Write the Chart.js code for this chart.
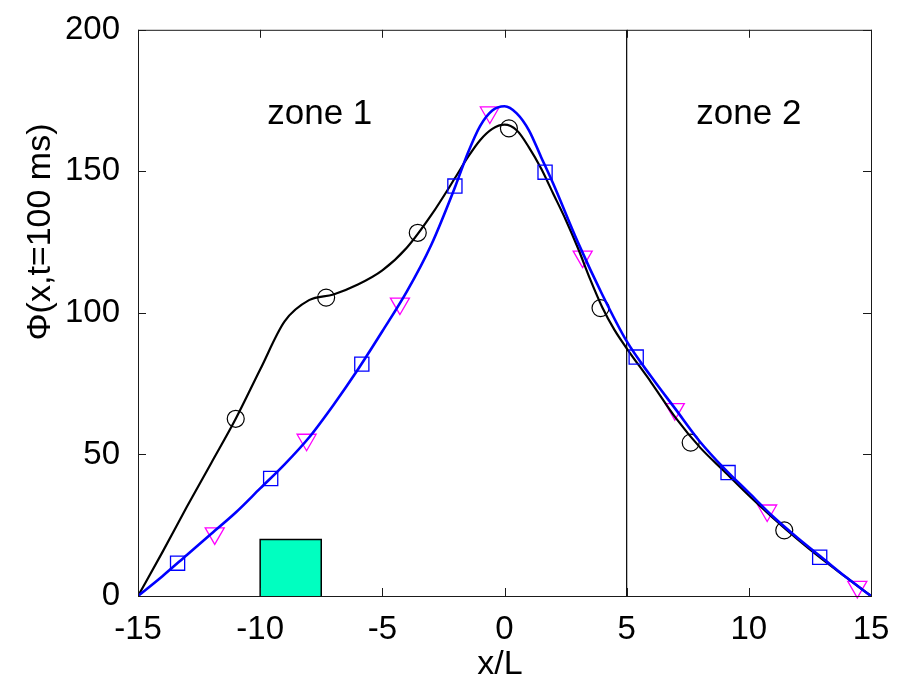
<!DOCTYPE html>
<html>
<head>
<meta charset="utf-8">
<script src="https://cdn.jsdelivr.net/npm/chart.js@4.4.1/dist/chart.umd.min.js"></script>
<style>
  body { margin: 0; background: #fff; }
  #wrap { width: 901px; height: 683px; }
</style>
</head>
<body>
<div id="wrap"><canvas id="grafico" width="901" height="683"></canvas></div>
<script>
// ejes
const xTicks = [-15, -10, -5, 0, 5, 10, 15];
const yTicks = [0, 50, 100, 150, 200];

// curva negra (circulos)
const xNegra = [-15, -14, -13, -12, -11, -10, -9, -8, -7, -6, -5, -4, -3, -2, -1.5, -1, -0.5, 0, 0.5, 1, 1.5, 2, 2.5, 3, 3.5, 4, 4.5, 5, 6, 7, 8, 9, 10, 11, 12, 13, 14, 15];
const yNegra = [0, 15.5, 31.5, 47, 62.6, 80, 97, 104.5, 106.5, 110, 115, 123, 134.5, 148, 155, 161, 165, 166.5, 164.5, 158.5, 151, 142, 133, 123, 112, 102, 94, 87.5, 75.5, 63, 52.5, 44, 35.5, 27.5, 20, 13, 6.5, 0];

// curva azul (cuadrados)
const xAzul = [-15, -14, -13, -12, -11, -10, -9, -8, -7, -6, -5, -4, -3, -2, -1.5, -1, -0.5, 0, 0.5, 1, 1.5, 2, 3, 4, 5, 6, 7, 8, 9, 10, 11, 12, 13, 14, 15];
const yAzul = [0, 7, 14.5, 22, 29.5, 38, 46.5, 56, 67.5, 80, 93.5, 107.5, 124, 145, 156.5, 166, 171.5, 173, 170.5, 164.5, 155, 145.5, 125, 106.5, 90, 77.5, 66, 54.5, 45, 36.5, 28, 20.5, 13.5, 6.5, 0];

// marcadores
const xCirculos = [-11, -7.3, -3.55, 0.18, 3.93, 7.62, 11.45];
const yCirculos = [62.6, 105.4, 128.3, 165.2, 101.7, 54.2, 23.2];
const xCuadrados = [-13.38, -9.57, -5.84, -2.03, 1.66, 5.39, 9.15, 12.9];
const yCuadrados = [11.6, 41.5, 81.9, 144.8, 149.7, 84.4, 43.6, 13.7];
const xTriangulos = [-11.86, -8.1, -4.28, -0.6, 3.2, 6.97, 10.75, 14.44];
const yTriangulos = [22.1, 55.2, 103.3, 170.8, 119.9, 66, 30.2, 3.2];

// rectangulo verde y limite de zonas
const xRect = [-10, -10, -7.5, -7.5];
const yRect = [0, 20, 20, 0];
const limiteZona = 5;

const fuente = "'Liberation Sans', Arial, sans-serif";

function pares(xs, ys) {
  return xs.map((x, i) => ({ x: x, y: ys[i] }));
}

// cajita, ticks hacia adentro y textos
const marco = {
  id: 'marco',
  afterDatasetsDraw(chart) {
    const ctx = chart.ctx;
    const a = chart.chartArea;
    const sx = chart.scales.x, sy = chart.scales.y;
    const tl = 8;
    ctx.save();
    ctx.strokeStyle = '#1a1a1a';
    ctx.lineWidth = 1;
    ctx.strokeRect(a.left + 0.5, a.top + 0.5, a.right - a.left, a.bottom - a.top);
    ctx.beginPath();
    xTicks.forEach(v => {
      const px = Math.round(sx.getPixelForValue(v)) + 0.5;
      ctx.moveTo(px, a.bottom); ctx.lineTo(px, a.bottom - tl);
      ctx.moveTo(px, a.top); ctx.lineTo(px, a.top + tl);
    });
    yTicks.forEach(v => {
      const py = Math.round(sy.getPixelForValue(v)) + 0.5;
      ctx.moveTo(a.left, py); ctx.lineTo(a.left + tl, py);
      ctx.moveTo(a.right, py); ctx.lineTo(a.right - tl, py);
    });
    ctx.stroke();

    ctx.fillStyle = '#000';
    ctx.textAlign = 'center';
    ctx.textBaseline = 'middle';
    ctx.font = '35px ' + fuente;
    ctx.fillText('zone 1', sx.getPixelForValue(-7.56), sy.getPixelForValue(170));
    ctx.fillText('zone 2', sx.getPixelForValue(10), sy.getPixelForValue(170));

    ctx.font = '34px ' + fuente;
    ctx.fillText('x/L', 500, 665);
    ctx.translate(41, 232);
    ctx.rotate(-Math.PI / 2);
    ctx.fillText('\u03A6(x,t=100 ms)', 0, 0);
    ctx.restore();
  }
};

const grafico = new Chart(document.getElementById('grafico'), {
  type: 'line',
  data: {
    datasets: [
      {
        data: pares(xCuadrados, yCuadrados), showLine: false, order: 1, clip: false,
        pointStyle: 'rect', pointRadius: 10, pointBorderColor: '#0000ff', pointBackgroundColor: 'rgba(0,0,0,0)', pointBorderWidth: 1.3
      },
      {
        data: pares(xAzul, yAzul), order: 2, borderColor: '#0000ff', borderWidth: 2.6,
        pointRadius: 0, cubicInterpolationMode: 'monotone'
      },
      {
        data: pares(xCirculos, yCirculos), showLine: false, order: 3, clip: false,
        pointStyle: 'circle', pointRadius: 8.5, pointBorderColor: '#000', pointBackgroundColor: 'rgba(0,0,0,0)', pointBorderWidth: 1.2
      },
      {
        data: pares(xNegra, yNegra), order: 4, borderColor: '#000', borderWidth: 2.2,
        pointRadius: 0, cubicInterpolationMode: 'monotone'
      },
      {
        data: pares(xTriangulos, yTriangulos), showLine: false, order: 5, clip: false,
        pointStyle: 'triangle', pointRotation: 180, pointRadius: 11, pointBorderColor: '#ff00ff', pointBackgroundColor: 'rgba(0,0,0,0)', pointBorderWidth: 1.3
      },
      {
        data: pares(xRect, yRect), order: 6, borderColor: '#000', borderWidth: 1.5, tension: 0,
        pointRadius: 0, fill: 'origin', backgroundColor: '#00ffc0'
      },
      {
        data: pares([limiteZona, limiteZona], [0, 200]), order: 7, borderColor: '#000', borderWidth: 1.2,
        pointRadius: 0
      }
    ]
  },
  options: {
    responsive: false,
    animation: false,
    devicePixelRatio: 1,
    layout: { padding: { top: 27, right: 30, left: 0, bottom: 0 } },
    plugins: { legend: { display: false }, tooltip: { enabled: false } },
    scales: {
      x: {
        type: 'linear', min: -15, max: 15,
        afterBuildTicks: s => { s.ticks = xTicks.map(v => ({ value: v })); },
        afterFit: s => { s.height = 87; },
        grid: { display: false }, border: { display: false },
        ticks: { color: '#000', padding: 6, maxRotation: 0, font: { family: fuente, size: 33 } }
      },
      y: {
        type: 'linear', min: 0, max: 200,
        afterBuildTicks: s => { s.ticks = yTicks.map(v => ({ value: v })); },
        afterFit: s => { s.width = 138; },
        grid: { display: false }, border: { display: false },
        ticks: { color: '#000', padding: 10, font: { family: fuente, size: 33 } }
      }
    }
  },
  plugins: [marco]
});
</script>
</body>
</html>
